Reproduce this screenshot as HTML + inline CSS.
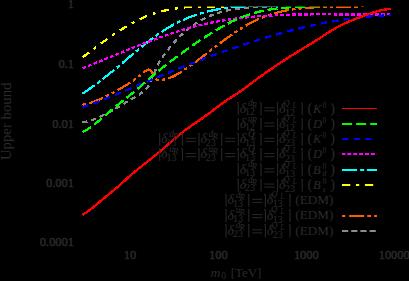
<!DOCTYPE html>
<html><head><meta charset="utf-8">
<style>
html,body{margin:0;padding:0;background:#000;width:409px;height:281px;overflow:hidden}
#c{position:absolute;left:0;top:0;width:409px;height:281px}
.t{position:absolute;font-family:"Liberation Serif",serif;color:#2c2929;white-space:nowrap;line-height:1}
</style></head><body>
<svg id="c" width="409" height="281" viewBox="0 0 409 281">
<rect width="409" height="281" fill="#000"/>
<defs><clipPath id="pc"><rect x="0" y="6.0" width="391" height="275"/></clipPath><mask id="mk" maskUnits="userSpaceOnUse" x="0" y="0" width="409" height="281"><rect x="0" y="0" width="409" height="281" fill="#fff"/><rect x="0" y="6" width="409" height="1" fill="#777"/></mask></defs>
<g fill="none" stroke-linecap="butt" stroke-linejoin="round" clip-path="url(#pc)" mask="url(#mk)" shape-rendering="crispEdges">
<path d="M82.50 122.47 L83.50 122.29 L84.50 122.09 L85.50 121.87 L86.50 121.63 L87.50 121.38 L88.50 121.10 L89.50 120.81 L90.50 120.50 L91.50 120.17 L92.50 119.82 L93.50 119.47 L94.50 119.09 L95.50 118.70 L96.50 118.30 L97.50 117.88 L98.50 117.45 L99.50 117.01 L100.50 116.56 L101.50 116.09 L102.50 115.61 L103.50 115.12 L104.50 114.63 L105.50 114.12 L106.50 113.60 L107.50 113.07 L108.50 112.54 L109.50 112.00 L110.50 111.45 L111.50 110.89 L112.50 110.33 L113.50 109.76 L114.50 109.18 L115.50 108.61 L116.50 108.02 L117.50 107.43 L118.50 106.84 L119.50 106.25 L120.50 105.66 L121.50 105.06 L122.50 104.46 L123.50 103.86 L124.50 103.26 L125.50 102.66 L126.50 102.06 L127.50 101.46 L128.50 100.86 L129.50 100.27 L130.50 99.67 L131.50 99.08 L132.50 98.50 L133.50 97.91 L134.50 97.33 L135.50 96.74 L136.50 96.14 L137.50 95.52 L138.50 94.89 L139.50 94.24 L140.50 93.57 L141.50 92.86 L142.50 92.12 L143.50 91.35 L144.50 90.52 L145.50 89.62 L146.50 88.59 L147.50 87.40 L148.50 85.99 L149.50 84.32 L150.50 82.36 L151.50 80.14 L152.50 77.71 L153.50 75.15 L154.50 72.53 L155.50 69.95 L156.50 67.49 L157.50 65.25 L158.50 63.29 L159.50 61.56 L160.50 60.00 L161.50 58.54 L162.50 57.11 L163.50 55.71 L164.50 54.34 L165.50 53.00 L166.50 51.68 L167.50 50.38 L168.50 49.12 L169.50 47.88 L170.50 46.66 L171.50 45.47 L172.50 44.31 L173.50 43.16 L174.50 42.05 L175.50 40.95 L176.50 39.89 L177.50 38.84 L178.50 37.82 L179.50 36.82 L180.50 35.84 L181.50 34.89 L182.50 33.95 L183.50 33.04 L184.50 32.15 L185.50 31.28 L186.50 30.44 L187.50 29.61 L188.50 28.81 L189.50 28.02 L190.50 27.25 L191.50 26.51 L192.50 25.78 L193.50 25.07 L194.50 24.39 L195.50 23.72 L196.50 23.06 L197.50 22.43 L198.50 21.81 L199.50 21.21 L200.50 20.63 L201.50 20.07 L202.50 19.52 L203.50 18.99 L204.50 18.47 L205.50 17.97 L206.50 17.49 L207.50 17.02 L208.50 16.57 L209.50 16.13 L210.50 15.70 L211.50 15.29 L212.50 14.90 L213.50 14.52 L214.50 14.15 L215.50 13.79 L216.50 13.45 L217.50 13.12 L218.50 12.80 L219.50 12.49 L220.50 12.20 L221.50 11.91 L222.50 11.64 L223.50 11.38 L224.50 11.13 L225.50 10.89 L226.50 10.66 L227.50 10.44 L228.50 10.23 L229.50 10.03 L230.50 9.84 L231.50 9.65 L232.50 9.48 L233.50 9.31 L234.50 9.15 L235.50 9.00 L236.50 8.86 L237.50 8.72 L238.50 8.60 L239.50 8.47 L240.50 8.36 L241.50 8.25 L242.50 8.14 L243.50 8.04 L244.50 7.95 L245.50 7.86 L246.50 7.77 L247.50 7.69 L248.50 7.62 L249.50 7.55 L250.50 7.48 L251.50 7.41 L252.50 7.35 L253.50 7.29 L254.50 7.24 L255.50 7.18 L256.50 7.13 L257.50 7.08 L258.50 7.03 L259.50 6.98 L260.50 6.94 L261.50 6.89 L262.50 6.84 L263.50 6.80 L264.50 6.75 L265.50 6.70 L266.50 6.66 L267.50 6.61 L268.50 6.56 L269.50 6.51 L270.50 6.45 L271.50 6.40 L272.50 6.34 L273.50 6.28 L274.50 6.22 L275.50 6.15 L276.50 6.08 L277.50 6.01 L278.00 5.97" stroke="#8c8c8c" stroke-width="2.3" stroke-dasharray="5 4"/>
<path d="M82.50 104.69 L83.50 104.51 L84.50 104.31 L85.50 104.09 L86.50 103.85 L87.50 103.60 L88.50 103.33 L89.50 103.05 L90.50 102.75 L91.50 102.44 L92.50 102.11 L93.50 101.77 L94.50 101.42 L95.50 101.05 L96.50 100.67 L97.50 100.27 L98.50 99.87 L99.50 99.45 L100.50 99.02 L101.50 98.58 L102.50 98.13 L103.50 97.66 L104.50 97.19 L105.50 96.71 L106.50 96.22 L107.50 95.72 L108.50 95.21 L109.50 94.69 L110.50 94.16 L111.50 93.63 L112.50 93.09 L113.50 92.54 L114.50 91.98 L115.50 91.42 L116.50 90.85 L117.50 90.28 L118.50 89.70 L119.50 89.12 L120.50 88.53 L121.50 87.94 L122.50 87.34 L123.50 86.74 L124.50 86.14 L125.50 85.53 L126.50 84.92 L127.50 84.31 L128.50 83.68 L129.50 83.05 L130.50 82.40 L131.50 81.75 L132.50 81.08 L133.50 80.40 L134.50 79.70 L135.50 78.99 L136.50 78.26 L137.50 77.51 L138.50 76.74 L139.50 75.95 L140.50 75.14 L141.50 74.30 L142.50 73.44 L143.50 72.57 L144.50 71.72 L145.50 70.96 L146.50 70.33 L147.50 69.88 L148.50 69.65 L149.50 69.71 L150.50 70.23 L151.50 71.42 L152.50 73.36 L153.50 75.55 L154.50 77.39 L155.50 78.62 L156.50 79.36 L157.50 79.73 L158.50 79.87 L159.50 79.90 L160.50 79.88 L161.50 79.81 L162.50 79.71 L163.50 79.57 L164.50 79.38 L165.50 79.16 L166.50 78.91 L167.50 78.62 L168.50 78.30 L169.50 77.94 L170.50 77.56 L171.50 77.15 L172.50 76.71 L173.50 76.24 L174.50 75.75 L175.50 75.23 L176.50 74.69 L177.50 74.14 L178.50 73.56 L179.50 72.96 L180.50 72.35 L181.50 71.72 L182.50 71.08 L183.50 70.42 L184.50 69.76 L185.50 69.08 L186.50 68.40 L187.50 67.70 L188.50 67.01 L189.50 66.30 L190.50 65.59 L191.50 64.87 L192.50 64.15 L193.50 63.42 L194.50 62.69 L195.50 61.95 L196.50 61.21 L197.50 60.47 L198.50 59.72 L199.50 58.97 L200.50 58.21 L201.50 57.46 L202.50 56.70 L203.50 55.93 L204.50 55.17 L205.50 54.40 L206.50 53.64 L207.50 52.87 L208.50 52.10 L209.50 51.33 L210.50 50.56 L211.50 49.79 L212.50 49.02 L213.50 48.26 L214.50 47.49 L215.50 46.72 L216.50 45.96 L217.50 45.20 L218.50 44.44 L219.50 43.68 L220.50 42.92 L221.50 42.17 L222.50 41.42 L223.50 40.68 L224.50 39.93 L225.50 39.20 L226.50 38.46 L227.50 37.73 L228.50 37.01 L229.50 36.29 L230.50 35.58 L231.50 34.87 L232.50 34.17 L233.50 33.48 L234.50 32.79 L235.50 32.11 L236.50 31.44 L237.50 30.77 L238.50 30.12 L239.50 29.47 L240.50 28.83 L241.50 28.20 L242.50 27.57 L243.50 26.96 L244.50 26.36 L245.50 25.76 L246.50 25.18 L247.50 24.60 L248.50 24.04 L249.50 23.49 L250.50 22.95 L251.50 22.42 L252.50 21.91 L253.50 21.40 L254.50 20.91 L255.50 20.43 L256.50 19.95 L257.50 19.50 L258.50 19.05 L259.50 18.61 L260.50 18.18 L261.50 17.77 L262.50 17.36 L263.50 16.97 L264.50 16.58 L265.50 16.21 L266.50 15.84 L267.50 15.49 L268.50 15.14 L269.50 14.81 L270.50 14.48 L271.50 14.16 L272.50 13.86 L273.50 13.56 L274.50 13.27 L275.50 12.99 L276.50 12.71 L277.50 12.45 L278.50 12.19 L279.50 11.95 L280.50 11.71 L281.50 11.47 L282.50 11.25 L283.50 11.03 L284.50 10.83 L285.50 10.62 L286.50 10.43 L287.50 10.24 L288.50 10.06 L289.50 9.89 L290.50 9.72 L291.50 9.56 L292.50 9.41 L293.50 9.26 L294.50 9.12 L295.50 8.98 L296.50 8.85 L297.50 8.73 L298.50 8.61 L299.50 8.50 L300.50 8.39 L301.50 8.29 L302.50 8.19 L303.50 8.09 L304.50 8.01 L305.50 7.92 L306.50 7.84 L307.50 7.77 L308.50 7.70 L309.50 7.63 L310.50 7.57 L311.50 7.51 L312.50 7.46 L313.50 7.40 L314.50 7.35 L315.50 7.31 L316.50 7.27 L317.50 7.23 L318.50 7.19 L319.50 7.16 L320.50 7.13 L321.50 7.10 L322.50 7.07 L323.50 7.05 L324.50 7.02 L325.50 7.00 L326.50 6.99 L327.50 6.97 L328.50 6.95 L329.50 6.94 L330.50 6.92 L331.50 6.91 L332.50 6.90 L333.50 6.89 L334.50 6.88 L335.50 6.87 L336.50 6.86 L337.50 6.85 L338.50 6.84 L339.50 6.83 L340.50 6.82 L341.50 6.81 L342.50 6.80 L343.50 6.79 L344.50 6.78 L345.50 6.77 L346.50 6.75 L347.50 6.74 L348.50 6.72 L349.50 6.70 L350.50 6.69 L351.50 6.66 L352.50 6.64 L353.50 6.62 L354.50 6.59 L355.50 6.56 L356.50 6.53 L357.50 6.49 L358.50 6.46 L359.50 6.42 L360.50 6.37 L361.50 6.33 L362.50 6.28 L363.50 6.23 L364.50 6.17 L365.50 6.11 L366.50 6.05 L367.50 5.98 L368.00 5.94" stroke="#ff5a00" stroke-width="2.3" stroke-dasharray="3.3 3.5 15 3 3.5 3"/>
<path d="M82.50 57.46 L83.50 56.71 L84.50 55.95 L85.50 55.19 L86.50 54.43 L87.50 53.67 L88.50 52.91 L89.50 52.16 L90.50 51.40 L91.50 50.65 L92.50 49.89 L93.50 49.14 L94.50 48.39 L95.50 47.64 L96.50 46.90 L97.50 46.15 L98.50 45.41 L99.50 44.67 L100.50 43.94 L101.50 43.20 L102.50 42.47 L103.50 41.75 L104.50 41.02 L105.50 40.31 L106.50 39.59 L107.50 38.88 L108.50 38.17 L109.50 37.47 L110.50 36.77 L111.50 36.08 L112.50 35.39 L113.50 34.70 L114.50 34.03 L115.50 33.35 L116.50 32.69 L117.50 32.03 L118.50 31.37 L119.50 30.72 L120.50 30.08 L121.50 29.44 L122.50 28.81 L123.50 28.19 L124.50 27.58 L125.50 26.97 L126.50 26.37 L127.50 25.78 L128.50 25.19 L129.50 24.61 L130.50 24.05 L131.50 23.49 L132.50 22.93 L133.50 22.39 L134.50 21.86 L135.50 21.33 L136.50 20.82 L137.50 20.31 L138.50 19.82 L139.50 19.33 L140.50 18.85 L141.50 18.39 L142.50 17.93 L143.50 17.49 L144.50 17.05 L145.50 16.63 L146.50 16.21 L147.50 15.81 L148.50 15.42 L149.50 15.04 L150.50 14.67 L151.50 14.32 L152.50 13.97 L153.50 13.63 L154.50 13.30 L155.50 12.99 L156.50 12.68 L157.50 12.38 L158.50 12.09 L159.50 11.81 L160.50 11.54 L161.50 11.28 L162.50 11.03 L163.50 10.79 L164.50 10.55 L165.50 10.33 L166.50 10.11 L167.50 9.90 L168.50 9.70 L169.50 9.51 L170.50 9.32 L171.50 9.14 L172.50 8.97 L173.50 8.81 L174.50 8.65 L175.50 8.50 L176.50 8.35 L177.50 8.22 L178.50 8.09 L179.50 7.96 L180.50 7.84 L181.50 7.73 L182.50 7.63 L183.50 7.53 L184.50 7.43 L185.50 7.34 L186.50 7.26 L187.50 7.18 L188.50 7.10 L189.50 7.03 L190.50 6.97 L191.50 6.90 L192.50 6.85 L193.50 6.79 L194.50 6.75 L195.50 6.70 L196.50 6.66 L197.50 6.62 L198.50 6.59 L199.50 6.56 L200.50 6.53 L201.50 6.50 L202.50 6.48 L203.50 6.46 L204.50 6.44 L205.50 6.42 L206.50 6.41 L207.50 6.40 L208.50 6.39 L209.50 6.38 L210.50 6.37 L211.50 6.37 L212.50 6.36 L213.50 6.36 L214.50 6.36 L215.50 6.36 L216.50 6.36 L217.50 6.35 L218.50 6.35 L219.50 6.35 L220.50 6.35 L221.50 6.35 L222.50 6.35 L223.50 6.35 L224.50 6.35 L225.50 6.34 L226.50 6.34 L227.50 6.33 L228.50 6.33 L229.50 6.32 L230.50 6.31 L231.50 6.30 L232.50 6.28 L233.50 6.27 L234.50 6.25 L235.50 6.23 L236.50 6.20 L237.50 6.18 L238.50 6.15 L239.50 6.12 L240.00 6.10" stroke="#ffff00" stroke-width="2.3" stroke-dasharray="8 6 3 6"/>
<path d="M82.50 93.58 L83.50 92.93 L84.50 92.27 L85.50 91.60 L86.50 90.92 L87.50 90.24 L88.50 89.54 L89.50 88.84 L90.50 88.14 L91.50 87.43 L92.50 86.71 L93.50 85.98 L94.50 85.25 L95.50 84.51 L96.50 83.77 L97.50 83.02 L98.50 82.26 L99.50 81.50 L100.50 80.74 L101.50 79.96 L102.50 79.19 L103.50 78.41 L104.50 77.62 L105.50 76.83 L106.50 76.04 L107.50 75.24 L108.50 74.43 L109.50 73.63 L110.50 72.82 L111.50 72.00 L112.50 71.19 L113.50 70.36 L114.50 69.54 L115.50 68.72 L116.50 67.89 L117.50 67.05 L118.50 66.22 L119.50 65.38 L120.50 64.55 L121.50 63.71 L122.50 62.87 L123.50 62.02 L124.50 61.18 L125.50 60.33 L126.50 59.49 L127.50 58.64 L128.50 57.79 L129.50 56.95 L130.50 56.10 L131.50 55.26 L132.50 54.41 L133.50 53.57 L134.50 52.73 L135.50 51.90 L136.50 51.06 L137.50 50.23 L138.50 49.40 L139.50 48.57 L140.50 47.75 L141.50 46.93 L142.50 46.12 L143.50 45.31 L144.50 44.51 L145.50 43.71 L146.50 42.92 L147.50 42.13 L148.50 41.35 L149.50 40.58 L150.50 39.81 L151.50 39.05 L152.50 38.30 L153.50 37.55 L154.50 36.82 L155.50 36.09 L156.50 35.37 L157.50 34.66 L158.50 33.96 L159.50 33.27 L160.50 32.59 L161.50 31.92 L162.50 31.26 L163.50 30.61 L164.50 29.97 L165.50 29.35 L166.50 28.73 L167.50 28.12 L168.50 27.53 L169.50 26.94 L170.50 26.37 L171.50 25.80 L172.50 25.25 L173.50 24.70 L174.50 24.17 L175.50 23.64 L176.50 23.13 L177.50 22.62 L178.50 22.12 L179.50 21.64 L180.50 21.16 L181.50 20.69 L182.50 20.23 L183.50 19.79 L184.50 19.34 L185.50 18.91 L186.50 18.49 L187.50 18.08 L188.50 17.67 L189.50 17.28 L190.50 16.89 L191.50 16.51 L192.50 16.14 L193.50 15.78 L194.50 15.42 L195.50 15.08 L196.50 14.74 L197.50 14.41 L198.50 14.09 L199.50 13.77 L200.50 13.46 L201.50 13.17 L202.50 12.87 L203.50 12.59 L204.50 12.31 L205.50 12.04 L206.50 11.78 L207.50 11.53 L208.50 11.28 L209.50 11.04 L210.50 10.80 L211.50 10.58 L212.50 10.36 L213.50 10.14 L214.50 9.93 L215.50 9.73 L216.50 9.54 L217.50 9.35 L218.50 9.17 L219.50 8.99 L220.50 8.82 L221.50 8.66 L222.50 8.50 L223.50 8.35 L224.50 8.20 L225.50 8.06 L226.50 7.93 L227.50 7.80 L228.50 7.67 L229.50 7.55 L230.50 7.44 L231.50 7.33 L232.50 7.23 L233.50 7.13 L234.50 7.03 L235.50 6.94 L236.50 6.86 L237.50 6.78 L238.50 6.70 L239.50 6.63 L240.50 6.57 L241.50 6.50 L242.50 6.44 L243.50 6.39 L244.50 6.34 L245.50 6.29 L246.50 6.25 L247.50 6.21 L248.50 6.18 L249.50 6.15 L250.50 6.12 L251.50 6.09 L252.50 6.07 L253.50 6.06 L254.50 6.04 L255.50 6.03 L256.50 6.02 L257.50 6.01 L258.50 6.01 L259.50 6.01 L260.50 6.01 L261.50 6.02 L262.50 6.03 L263.50 6.04 L264.50 6.05 L265.50 6.06 L266.50 6.08 L267.50 6.10 L268.50 6.12 L269.50 6.14 L270.50 6.17 L271.50 6.20 L272.50 6.22 L273.50 6.25 L274.50 6.28 L275.50 6.32 L276.50 6.35 L277.50 6.39 L278.00 6.40" stroke="#00ffff" stroke-width="2.3" stroke-dasharray="15 3 4 3"/>
<path d="M82.50 68.26 L83.50 67.87 L84.50 67.48 L85.50 67.09 L86.50 66.70 L87.50 66.31 L88.50 65.91 L89.50 65.52 L90.50 65.12 L91.50 64.72 L92.50 64.32 L93.50 63.92 L94.50 63.52 L95.50 63.12 L96.50 62.72 L97.50 62.31 L98.50 61.91 L99.50 61.50 L100.50 61.10 L101.50 60.69 L102.50 60.28 L103.50 59.88 L104.50 59.47 L105.50 59.06 L106.50 58.65 L107.50 58.24 L108.50 57.83 L109.50 57.42 L110.50 57.01 L111.50 56.60 L112.50 56.19 L113.50 55.78 L114.50 55.37 L115.50 54.96 L116.50 54.55 L117.50 54.14 L118.50 53.73 L119.50 53.32 L120.50 52.91 L121.50 52.50 L122.50 52.09 L123.50 51.68 L124.50 51.27 L125.50 50.86 L126.50 50.45 L127.50 50.05 L128.50 49.64 L129.50 49.23 L130.50 48.83 L131.50 48.42 L132.50 48.02 L133.50 47.62 L134.50 47.22 L135.50 46.82 L136.50 46.42 L137.50 46.02 L138.50 45.62 L139.50 45.22 L140.50 44.83 L141.50 44.44 L142.50 44.04 L143.50 43.65 L144.50 43.26 L145.50 42.87 L146.50 42.49 L147.50 42.10 L148.50 41.72 L149.50 41.33 L150.50 40.95 L151.50 40.57 L152.50 40.20 L153.50 39.82 L154.50 39.45 L155.50 39.08 L156.50 38.71 L157.50 38.34 L158.50 37.97 L159.50 37.61 L160.50 37.25 L161.50 36.89 L162.50 36.53 L163.50 36.18 L164.50 35.82 L165.50 35.47 L166.50 35.13 L167.50 34.78 L168.50 34.44 L169.50 34.10 L170.50 33.76 L171.50 33.42 L172.50 33.09 L173.50 32.76 L174.50 32.44 L175.50 32.11 L176.50 31.79 L177.50 31.47 L178.50 31.16 L179.50 30.85 L180.50 30.54 L181.50 30.23 L182.50 29.93 L183.50 29.63 L184.50 29.33 L185.50 29.04 L186.50 28.75 L187.50 28.46 L188.50 28.18 L189.50 27.90 L190.50 27.63 L191.50 27.35 L192.50 27.09 L193.50 26.82 L194.50 26.56 L195.50 26.30 L196.50 26.05 L197.50 25.80 L198.50 25.55 L199.50 25.31 L200.50 25.07 L201.50 24.83 L202.50 24.60 L203.50 24.37 L204.50 24.14 L205.50 23.92 L206.50 23.70 L207.50 23.48 L208.50 23.27 L209.50 23.06 L210.50 22.85 L211.50 22.65 L212.50 22.45 L213.50 22.25 L214.50 22.06 L215.50 21.87 L216.50 21.68 L217.50 21.50 L218.50 21.31 L219.50 21.14 L220.50 20.96 L221.50 20.79 L222.50 20.62 L223.50 20.45 L224.50 20.29 L225.50 20.13 L226.50 19.97 L227.50 19.81 L228.50 19.66 L229.50 19.51 L230.50 19.36 L231.50 19.22 L232.50 19.08 L233.50 18.94 L234.50 18.80 L235.50 18.67 L236.50 18.54 L237.50 18.41 L238.50 18.28 L239.50 18.16 L240.50 18.04 L241.50 17.92 L242.50 17.81 L243.50 17.69 L244.50 17.58 L245.50 17.47 L246.50 17.37 L247.50 17.26 L248.50 17.16 L249.50 17.06 L250.50 16.96 L251.50 16.87 L252.50 16.78 L253.50 16.69 L254.50 16.60 L255.50 16.51 L256.50 16.43 L257.50 16.34 L258.50 16.26 L259.50 16.19 L260.50 16.11 L261.50 16.04 L262.50 15.96 L263.50 15.89 L264.50 15.83 L265.50 15.76 L266.50 15.70 L267.50 15.63 L268.50 15.57 L269.50 15.51 L270.50 15.46 L271.50 15.40 L272.50 15.35 L273.50 15.30 L274.50 15.25 L275.50 15.20 L276.50 15.15 L277.50 15.11 L278.50 15.06 L279.50 15.02 L280.50 14.98 L281.50 14.94 L282.50 14.90 L283.50 14.87 L284.50 14.83 L285.50 14.80 L286.50 14.76 L287.50 14.73 L288.50 14.70 L289.50 14.68 L290.50 14.65 L291.50 14.62 L292.50 14.60 L293.50 14.58 L294.50 14.56 L295.50 14.53 L296.50 14.51 L297.50 14.50 L298.50 14.48 L299.50 14.46 L300.50 14.45 L301.50 14.43 L302.50 14.42 L303.50 14.41 L304.50 14.40 L305.50 14.39 L306.50 14.38 L307.50 14.37 L308.50 14.36 L309.50 14.35 L310.50 14.35 L311.50 14.34 L312.50 14.34 L313.50 14.33 L314.50 14.33 L315.50 14.33 L316.50 14.32 L317.50 14.32 L318.50 14.32 L319.50 14.32 L320.50 14.32 L321.50 14.32 L322.50 14.32 L323.50 14.33 L324.50 14.33 L325.50 14.33 L326.50 14.33 L327.50 14.34 L328.50 14.34 L329.50 14.35 L330.50 14.35 L331.50 14.36 L332.50 14.36 L333.50 14.37 L334.50 14.37 L335.50 14.38 L336.50 14.38 L337.50 14.39 L338.50 14.40 L339.50 14.40 L340.50 14.41 L341.50 14.41 L342.50 14.42 L343.50 14.43 L344.50 14.43 L345.50 14.44 L346.50 14.45 L347.50 14.45 L348.50 14.46 L349.50 14.46 L350.50 14.47 L351.50 14.47 L352.50 14.48 L353.50 14.49 L354.50 14.49 L355.50 14.49 L356.50 14.50 L357.50 14.50 L358.50 14.51 L359.50 14.51 L360.50 14.51 L361.50 14.51 L362.50 14.51 L363.50 14.52 L364.50 14.52 L365.50 14.52 L366.50 14.51 L367.50 14.51 L368.50 14.51 L369.50 14.51 L370.50 14.51 L371.50 14.50 L372.50 14.50 L373.50 14.49 L374.50 14.49 L375.50 14.48 L376.50 14.47 L377.50 14.46 L378.50 14.45 L379.50 14.44 L380.50 14.43 L381.50 14.42 L382.50 14.41 L383.50 14.39 L384.50 14.38 L385.50 14.36 L386.50 14.35 L387.50 14.33 L388.50 14.31 L389.50 14.29 L390.50 14.27 L390.60 14.26" stroke="#ff00ff" stroke-width="2.3" stroke-dasharray="3.8 2.1"/>
<path d="M82.50 107.13 L83.50 106.80 L84.50 106.47 L85.50 106.14 L86.50 105.80 L87.50 105.46 L88.50 105.12 L89.50 104.77 L90.50 104.42 L91.50 104.06 L92.50 103.71 L93.50 103.35 L94.50 102.98 L95.50 102.61 L96.50 102.24 L97.50 101.87 L98.50 101.50 L99.50 101.12 L100.50 100.74 L101.50 100.36 L102.50 99.97 L103.50 99.58 L104.50 99.19 L105.50 98.80 L106.50 98.40 L107.50 98.01 L108.50 97.61 L109.50 97.21 L110.50 96.81 L111.50 96.40 L112.50 96.00 L113.50 95.59 L114.50 95.18 L115.50 94.77 L116.50 94.36 L117.50 93.95 L118.50 93.53 L119.50 93.12 L120.50 92.70 L121.50 92.29 L122.50 91.87 L123.50 91.45 L124.50 91.03 L125.50 90.61 L126.50 90.19 L127.50 89.77 L128.50 89.35 L129.50 88.93 L130.50 88.51 L131.50 88.08 L132.50 87.66 L133.50 87.24 L134.50 86.82 L135.50 86.40 L136.50 85.97 L137.50 85.55 L138.50 85.13 L139.50 84.71 L140.50 84.29 L141.50 83.87 L142.50 83.45 L143.50 83.03 L144.50 82.61 L145.50 82.19 L146.50 81.77 L147.50 81.35 L148.50 80.94 L149.50 80.52 L150.50 80.10 L151.50 79.69 L152.50 79.27 L153.50 78.86 L154.50 78.45 L155.50 78.03 L156.50 77.62 L157.50 77.21 L158.50 76.80 L159.50 76.39 L160.50 75.98 L161.50 75.57 L162.50 75.16 L163.50 74.75 L164.50 74.35 L165.50 73.94 L166.50 73.53 L167.50 73.13 L168.50 72.72 L169.50 72.32 L170.50 71.92 L171.50 71.51 L172.50 71.11 L173.50 70.71 L174.50 70.31 L175.50 69.91 L176.50 69.51 L177.50 69.11 L178.50 68.71 L179.50 68.32 L180.50 67.92 L181.50 67.52 L182.50 67.13 L183.50 66.73 L184.50 66.34 L185.50 65.95 L186.50 65.56 L187.50 65.16 L188.50 64.77 L189.50 64.38 L190.50 64.00 L191.50 63.61 L192.50 63.22 L193.50 62.83 L194.50 62.45 L195.50 62.06 L196.50 61.68 L197.50 61.30 L198.50 60.91 L199.50 60.53 L200.50 60.15 L201.50 59.77 L202.50 59.39 L203.50 59.01 L204.50 58.64 L205.50 58.26 L206.50 57.88 L207.50 57.51 L208.50 57.14 L209.50 56.76 L210.50 56.39 L211.50 56.02 L212.50 55.65 L213.50 55.28 L214.50 54.91 L215.50 54.55 L216.50 54.18 L217.50 53.82 L218.50 53.45 L219.50 53.09 L220.50 52.73 L221.50 52.37 L222.50 52.01 L223.50 51.65 L224.50 51.29 L225.50 50.93 L226.50 50.58 L227.50 50.22 L228.50 49.87 L229.50 49.52 L230.50 49.17 L231.50 48.82 L232.50 48.47 L233.50 48.12 L234.50 47.77 L235.50 47.43 L236.50 47.09 L237.50 46.74 L238.50 46.40 L239.50 46.06 L240.50 45.72 L241.50 45.39 L242.50 45.05 L243.50 44.71 L244.50 44.38 L245.50 44.05 L246.50 43.72 L247.50 43.39 L248.50 43.06 L249.50 42.73 L250.50 42.41 L251.50 42.08 L252.50 41.76 L253.50 41.44 L254.50 41.12 L255.50 40.80 L256.50 40.48 L257.50 40.17 L258.50 39.85 L259.50 39.54 L260.50 39.23 L261.50 38.92 L262.50 38.61 L263.50 38.30 L264.50 38.00 L265.50 37.69 L266.50 37.39 L267.50 37.09 L268.50 36.79 L269.50 36.49 L270.50 36.20 L271.50 35.90 L272.50 35.61 L273.50 35.32 L274.50 35.03 L275.50 34.74 L276.50 34.46 L277.50 34.17 L278.50 33.89 L279.50 33.61 L280.50 33.33 L281.50 33.05 L282.50 32.77 L283.50 32.50 L284.50 32.22 L285.50 31.95 L286.50 31.68 L287.50 31.42 L288.50 31.15 L289.50 30.89 L290.50 30.63 L291.50 30.36 L292.50 30.11 L293.50 29.85 L294.50 29.59 L295.50 29.34 L296.50 29.09 L297.50 28.84 L298.50 28.59 L299.50 28.35 L300.50 28.10 L301.50 27.86 L302.50 27.62 L303.50 27.39 L304.50 27.15 L305.50 26.92 L306.50 26.68 L307.50 26.45 L308.50 26.23 L309.50 26.00 L310.50 25.78 L311.50 25.55 L312.50 25.33 L313.50 25.12 L314.50 24.90 L315.50 24.69 L316.50 24.47 L317.50 24.26 L318.50 24.06 L319.50 23.85 L320.50 23.65 L321.50 23.45 L322.50 23.25 L323.50 23.05 L324.50 22.86 L325.50 22.66 L326.50 22.47 L327.50 22.29 L328.50 22.10 L329.50 21.92 L330.50 21.73 L331.50 21.55 L332.50 21.38 L333.50 21.20 L334.50 21.03 L335.50 20.86 L336.50 20.69 L337.50 20.53 L338.50 20.36 L339.50 20.20 L340.50 20.04 L341.50 19.89 L342.50 19.73 L343.50 19.58 L344.50 19.43 L345.50 19.29 L346.50 19.14 L347.50 19.00 L348.50 18.86 L349.50 18.72 L350.50 18.59 L351.50 18.46 L352.50 18.33 L353.50 18.20 L354.50 18.07 L355.50 17.95 L356.50 17.83 L357.50 17.71 L358.50 17.60 L359.50 17.49 L360.50 17.38 L361.50 17.27 L362.50 17.16 L363.50 17.06 L364.50 16.96 L365.50 16.87 L366.50 16.77 L367.50 16.68 L368.50 16.59 L369.50 16.51 L370.50 16.42 L371.50 16.34 L372.50 16.26 L373.50 16.19 L374.50 16.11 L375.50 16.04 L376.50 15.98 L377.50 15.91 L378.50 15.85 L379.50 15.79 L380.50 15.73 L381.50 15.68 L382.50 15.63 L383.50 15.58 L384.50 15.53 L385.50 15.49 L386.50 15.45 L387.50 15.42 L388.50 15.38 L389.50 15.35 L390.50 15.32 L390.60 15.32" stroke="#0000ff" stroke-width="2.3" stroke-dasharray="6.5 5"/>
<path d="M82.50 132.27 L83.50 131.72 L84.50 131.14 L85.50 130.54 L86.50 129.92 L87.50 129.28 L88.50 128.61 L89.50 127.93 L90.50 127.22 L91.50 126.50 L92.50 125.76 L93.50 125.01 L94.50 124.24 L95.50 123.45 L96.50 122.66 L97.50 121.86 L98.50 121.04 L99.50 120.22 L100.50 119.39 L101.50 118.55 L102.50 117.71 L103.50 116.86 L104.50 116.01 L105.50 115.16 L106.50 114.30 L107.50 113.45 L108.50 112.60 L109.50 111.75 L110.50 110.91 L111.50 110.07 L112.50 109.23 L113.50 108.40 L114.50 107.58 L115.50 106.76 L116.50 105.95 L117.50 105.14 L118.50 104.34 L119.50 103.54 L120.50 102.74 L121.50 101.94 L122.50 101.14 L123.50 100.35 L124.50 99.55 L125.50 98.75 L126.50 97.95 L127.50 97.15 L128.50 96.35 L129.50 95.54 L130.50 94.73 L131.50 93.91 L132.50 93.09 L133.50 92.27 L134.50 91.43 L135.50 90.60 L136.50 89.75 L137.50 88.91 L138.50 88.06 L139.50 87.20 L140.50 86.34 L141.50 85.48 L142.50 84.62 L143.50 83.75 L144.50 82.88 L145.50 82.01 L146.50 81.14 L147.50 80.27 L148.50 79.40 L149.50 78.53 L150.50 77.66 L151.50 76.80 L152.50 75.94 L153.50 75.08 L154.50 74.23 L155.50 73.39 L156.50 72.55 L157.50 71.73 L158.50 70.91 L159.50 70.10 L160.50 69.30 L161.50 68.50 L162.50 67.71 L163.50 66.93 L164.50 66.15 L165.50 65.38 L166.50 64.61 L167.50 63.84 L168.50 63.08 L169.50 62.31 L170.50 61.55 L171.50 60.80 L172.50 60.04 L173.50 59.29 L174.50 58.54 L175.50 57.79 L176.50 57.04 L177.50 56.30 L178.50 55.56 L179.50 54.82 L180.50 54.09 L181.50 53.36 L182.50 52.63 L183.50 51.90 L184.50 51.18 L185.50 50.46 L186.50 49.75 L187.50 49.04 L188.50 48.33 L189.50 47.63 L190.50 46.92 L191.50 46.23 L192.50 45.53 L193.50 44.84 L194.50 44.15 L195.50 43.47 L196.50 42.79 L197.50 42.11 L198.50 41.44 L199.50 40.77 L200.50 40.10 L201.50 39.44 L202.50 38.78 L203.50 38.13 L204.50 37.48 L205.50 36.83 L206.50 36.19 L207.50 35.55 L208.50 34.91 L209.50 34.28 L210.50 33.65 L211.50 33.03 L212.50 32.41 L213.50 31.79 L214.50 31.18 L215.50 30.58 L216.50 29.98 L217.50 29.38 L218.50 28.79 L219.50 28.21 L220.50 27.63 L221.50 27.06 L222.50 26.49 L223.50 25.93 L224.50 25.38 L225.50 24.83 L226.50 24.30 L227.50 23.76 L228.50 23.24 L229.50 22.73 L230.50 22.22 L231.50 21.72 L232.50 21.23 L233.50 20.75 L234.50 20.28 L235.50 19.82 L236.50 19.36 L237.50 18.92 L238.50 18.49 L239.50 18.07 L240.50 17.65 L241.50 17.25 L242.50 16.86 L243.50 16.48 L244.50 16.11 L245.50 15.74 L246.50 15.39 L247.50 15.05 L248.50 14.72 L249.50 14.39 L250.50 14.08 L251.50 13.77 L252.50 13.48 L253.50 13.19 L254.50 12.91 L255.50 12.64 L256.50 12.37 L257.50 12.12 L258.50 11.87 L259.50 11.63 L260.50 11.40 L261.50 11.18 L262.50 10.96 L263.50 10.75 L264.50 10.55 L265.50 10.35 L266.50 10.16 L267.50 9.98 L268.50 9.81 L269.50 9.64 L270.50 9.47 L271.50 9.32 L272.50 9.17 L273.50 9.02 L274.50 8.88 L275.50 8.75 L276.50 8.62 L277.50 8.49 L278.50 8.37 L279.50 8.26 L280.50 8.15 L281.50 8.04 L282.50 7.94 L283.50 7.85 L284.50 7.76 L285.50 7.67 L286.50 7.58 L287.50 7.50 L288.50 7.43 L289.50 7.35 L290.50 7.28 L291.50 7.21 L292.50 7.15 L293.50 7.09 L294.50 7.03 L295.50 6.97 L296.50 6.92 L297.50 6.86 L298.50 6.81 L299.50 6.77 L300.50 6.72 L301.50 6.67 L302.50 6.63 L303.50 6.59 L304.50 6.55 L305.50 6.51 L306.50 6.47 L307.50 6.43 L308.50 6.39 L309.50 6.35 L310.50 6.32 L311.50 6.28 L312.50 6.24 L313.50 6.21 L314.50 6.17 L315.50 6.13 L316.50 6.09 L317.50 6.05 L318.50 6.01 L319.50 5.97 L320.50 5.93 L321.50 5.88 L322.50 5.84 L323.50 5.79 L324.50 5.74 L325.00 5.72" stroke="#00ff00" stroke-width="2.3" stroke-dasharray="10 4"/>
<path d="M82.50 214.91 L83.50 214.29 L84.50 213.65 L85.50 212.98 L86.50 212.30 L87.50 211.59 L88.50 210.87 L89.50 210.12 L90.50 209.37 L91.50 208.59 L92.50 207.81 L93.50 207.01 L94.50 206.20 L95.50 205.38 L96.50 204.56 L97.50 203.72 L98.50 202.88 L99.50 202.04 L100.50 201.19 L101.50 200.34 L102.50 199.49 L103.50 198.64 L104.50 197.80 L105.50 196.96 L106.50 196.12 L107.50 195.28 L108.50 194.46 L109.50 193.64 L110.50 192.83 L111.50 192.02 L112.50 191.22 L113.50 190.41 L114.50 189.59 L115.50 188.77 L116.50 187.94 L117.50 187.10 L118.50 186.24 L119.50 185.36 L120.50 184.47 L121.50 183.56 L122.50 182.65 L123.50 181.73 L124.50 180.81 L125.50 179.90 L126.50 178.99 L127.50 178.10 L128.50 177.21 L129.50 176.34 L130.50 175.47 L131.50 174.61 L132.50 173.76 L133.50 172.91 L134.50 172.07 L135.50 171.24 L136.50 170.42 L137.50 169.59 L138.50 168.78 L139.50 167.96 L140.50 167.15 L141.50 166.35 L142.50 165.54 L143.50 164.74 L144.50 163.94 L145.50 163.14 L146.50 162.34 L147.50 161.54 L148.50 160.74 L149.50 159.94 L150.50 159.14 L151.50 158.34 L152.50 157.53 L153.50 156.72 L154.50 155.91 L155.50 155.10 L156.50 154.28 L157.50 153.45 L158.50 152.62 L159.50 151.79 L160.50 150.94 L161.50 150.10 L162.50 149.24 L163.50 148.39 L164.50 147.53 L165.50 146.67 L166.50 145.81 L167.50 144.94 L168.50 144.08 L169.50 143.21 L170.50 142.35 L171.50 141.49 L172.50 140.63 L173.50 139.78 L174.50 138.92 L175.50 138.08 L176.50 137.23 L177.50 136.40 L178.50 135.57 L179.50 134.75 L180.50 133.93 L181.50 133.13 L182.50 132.33 L183.50 131.54 L184.50 130.77 L185.50 130.00 L186.50 129.25 L187.50 128.51 L188.50 127.77 L189.50 127.05 L190.50 126.34 L191.50 125.63 L192.50 124.93 L193.50 124.24 L194.50 123.55 L195.50 122.86 L196.50 122.18 L197.50 121.49 L198.50 120.81 L199.50 120.13 L200.50 119.44 L201.50 118.75 L202.50 118.06 L203.50 117.37 L204.50 116.67 L205.50 115.96 L206.50 115.25 L207.50 114.52 L208.50 113.79 L209.50 113.05 L210.50 112.30 L211.50 111.54 L212.50 110.78 L213.50 110.01 L214.50 109.24 L215.50 108.47 L216.50 107.70 L217.50 106.93 L218.50 106.17 L219.50 105.41 L220.50 104.66 L221.50 103.92 L222.50 103.19 L223.50 102.46 L224.50 101.76 L225.50 101.06 L226.50 100.39 L227.50 99.72 L228.50 99.07 L229.50 98.43 L230.50 97.80 L231.50 97.17 L232.50 96.54 L233.50 95.91 L234.50 95.27 L235.50 94.64 L236.50 93.99 L237.50 93.33 L238.50 92.66 L239.50 91.97 L240.50 91.27 L241.50 90.55 L242.50 89.83 L243.50 89.09 L244.50 88.34 L245.50 87.59 L246.50 86.83 L247.50 86.08 L248.50 85.32 L249.50 84.57 L250.50 83.82 L251.50 83.07 L252.50 82.33 L253.50 81.58 L254.50 80.85 L255.50 80.11 L256.50 79.38 L257.50 78.65 L258.50 77.93 L259.50 77.20 L260.50 76.48 L261.50 75.77 L262.50 75.05 L263.50 74.34 L264.50 73.64 L265.50 72.93 L266.50 72.23 L267.50 71.53 L268.50 70.84 L269.50 70.14 L270.50 69.45 L271.50 68.77 L272.50 68.08 L273.50 67.40 L274.50 66.72 L275.50 66.05 L276.50 65.37 L277.50 64.70 L278.50 64.04 L279.50 63.37 L280.50 62.71 L281.50 62.05 L282.50 61.40 L283.50 60.74 L284.50 60.09 L285.50 59.45 L286.50 58.80 L287.50 58.16 L288.50 57.52 L289.50 56.89 L290.50 56.25 L291.50 55.62 L292.50 54.99 L293.50 54.37 L294.50 53.75 L295.50 53.12 L296.50 52.51 L297.50 51.89 L298.50 51.28 L299.50 50.67 L300.50 50.06 L301.50 49.46 L302.50 48.85 L303.50 48.24 L304.50 47.64 L305.50 47.03 L306.50 46.43 L307.50 45.82 L308.50 45.21 L309.50 44.60 L310.50 43.99 L311.50 43.38 L312.50 42.76 L313.50 42.14 L314.50 41.52 L315.50 40.89 L316.50 40.26 L317.50 39.62 L318.50 38.98 L319.50 38.33 L320.50 37.68 L321.50 37.02 L322.50 36.37 L323.50 35.70 L324.50 35.04 L325.50 34.38 L326.50 33.73 L327.50 33.08 L328.50 32.43 L329.50 31.79 L330.50 31.15 L331.50 30.53 L332.50 29.92 L333.50 29.32 L334.50 28.73 L335.50 28.16 L336.50 27.60 L337.50 27.05 L338.50 26.52 L339.50 26.00 L340.50 25.49 L341.50 24.99 L342.50 24.51 L343.50 24.03 L344.50 23.56 L345.50 23.11 L346.50 22.66 L347.50 22.22 L348.50 21.79 L349.50 21.37 L350.50 20.95 L351.50 20.54 L352.50 20.14 L353.50 19.74 L354.50 19.34 L355.50 18.96 L356.50 18.57 L357.50 18.19 L358.50 17.81 L359.50 17.44 L360.50 17.07 L361.50 16.70 L362.50 16.33 L363.50 15.96 L364.50 15.59 L365.50 15.22 L366.50 14.86 L367.50 14.49 L368.50 14.13 L369.50 13.78 L370.50 13.43 L371.50 13.08 L372.50 12.74 L373.50 12.42 L374.50 12.10 L375.50 11.79 L376.50 11.49 L377.50 11.21 L378.50 10.94 L379.50 10.68 L380.50 10.44 L381.50 10.22 L382.50 10.02 L383.50 9.83 L384.50 9.67 L385.50 9.52 L386.50 9.40 L387.50 9.30 L388.50 9.23 L389.50 9.18 L390.50 9.15 L390.60 9.15" stroke="#ff0000" stroke-width="2.4"/>
</g>
<g fill="none" stroke-linecap="butt">
<path d="M342 108.5H377" stroke="#ff0000" stroke-width="1.0"/>
<path d="M342 124.0H377" stroke="#00ff00" stroke-width="2.0" stroke-dasharray="10.1 4"/>
<path d="M342 139.0H377" stroke="#0000ff" stroke-width="2.0" stroke-dasharray="6.2 5.4"/>
<path d="M342 154.0H377" stroke="#ff00ff" stroke-width="2.0" stroke-dasharray="4 1.9" stroke-dashoffset="0.6"/>
<path d="M342 170.0H377" stroke="#00ffff" stroke-width="2.0" stroke-dasharray="15.1 3 4.1 2.7"/>
<path d="M342 185.0H377" stroke="#ffff00" stroke-width="2.0" stroke-dasharray="8.3 5.7 3.2 5.7"/>
<path d="M342 216.0H377" stroke="#ff5a00" stroke-width="2.0" stroke-dasharray="3.3 3.8 15.1 3 4 2.8"/>
<path d="M342 231.0H377" stroke="#8c8c8c" stroke-width="2.0" stroke-dasharray="6.2 3"/>
</g>
<g font-family="Liberation Serif" fill="#2c2929" font-size="12.5">
<g font-size="13.5" stroke="#2c2929" stroke-width="0.5">
<text transform="translate(74 8.2) scale(0.92 1)" text-anchor="end">1</text>
<text transform="translate(74 68.3) scale(0.92 1)" text-anchor="end">0.1</text>
<text transform="translate(74 127.5) scale(0.92 1)" text-anchor="end">0.01</text>
<text transform="translate(74 186.7) scale(0.92 1)" text-anchor="end">0.001</text>
<text transform="translate(74 245.9) scale(0.92 1)" text-anchor="end">0.0001</text>
<text transform="translate(130 258.8) scale(0.92 1)" text-anchor="middle">10</text>
<text transform="translate(218.4 258.8) scale(0.92 1)" text-anchor="middle">100</text>
<text transform="translate(306.3 258.8) scale(0.92 1)" text-anchor="middle">1000</text>
<text transform="translate(394.2 258.8) scale(0.92 1)" text-anchor="middle">10000</text>
</g>
<text transform="translate(10.6 121.3) rotate(-90)" text-anchor="middle" font-size="14.6" textLength="77.6" lengthAdjust="spacingAndGlyphs">Upper bound</text>
<g stroke="#2c2929" stroke-width="0.08">
<rect x="237.80" y="102.70" width="1" height="12.6" fill="#2c2929"/>
<text x="239.70" y="112.70" font-size="13.8" font-style="italic">δ</text>
<text x="247.90" y="106.40" font-size="9.5" font-style="italic">d</text>
<text x="251.70" y="108.20" font-size="8.5" font-style="italic">R</text>
<text x="245.10" y="115.10" font-size="10.0">12</text>
<rect x="260.50" y="102.70" width="1" height="12.6" fill="#2c2929"/>
<rect x="264.50" y="107.30" width="10" height="0.9" fill="#2c2929"/>
<rect x="264.50" y="110.40" width="10" height="0.9" fill="#2c2929"/>
<rect x="277.10" y="102.70" width="1" height="12.6" fill="#2c2929"/>
<text x="279.00" y="112.70" font-size="13.8" font-style="italic">δ</text>
<text x="283.20" y="105.50" font-size="8.8" font-style="italic">Q</text>
<text x="292.40" y="107.50" font-size="7.5" font-style="italic">L</text>
<text x="284.90" y="115.90" font-size="10.0">12</text>
<rect x="301.70" y="102.70" width="1" height="12.6" fill="#2c2929"/>
<text x="307.40" y="112.60" font-size="14.0">(</text>
<text x="313.00" y="112.70" font-size="12.5" font-style="italic">K</text>
<text x="322.60" y="107.60" font-size="7.5">0</text>
<text x="330.20" y="112.60" font-size="14.0">)</text>
<rect x="237.80" y="117.96" width="1" height="12.6" fill="#2c2929"/>
<text x="239.70" y="127.96" font-size="13.8" font-style="italic">δ</text>
<text x="247.90" y="121.66" font-size="9.5" font-style="italic">u</text>
<text x="251.70" y="123.46" font-size="8.5" font-style="italic">R</text>
<text x="245.10" y="130.36" font-size="10.0">12</text>
<rect x="260.50" y="117.96" width="1" height="12.6" fill="#2c2929"/>
<rect x="264.50" y="122.56" width="10" height="0.9" fill="#2c2929"/>
<rect x="264.50" y="125.66" width="10" height="0.9" fill="#2c2929"/>
<rect x="277.10" y="117.96" width="1" height="12.6" fill="#2c2929"/>
<text x="279.00" y="127.96" font-size="13.8" font-style="italic">δ</text>
<text x="283.20" y="120.76" font-size="8.8" font-style="italic">Q</text>
<text x="292.40" y="122.76" font-size="7.5" font-style="italic">L</text>
<text x="284.90" y="131.16" font-size="10.0">12</text>
<rect x="301.70" y="117.96" width="1" height="12.6" fill="#2c2929"/>
<text x="307.40" y="127.86" font-size="14.0">(</text>
<text x="313.00" y="127.96" font-size="12.5" font-style="italic">D</text>
<text x="322.60" y="122.86" font-size="7.5">0</text>
<text x="330.20" y="127.86" font-size="14.0">)</text>
<rect x="159.20" y="133.22" width="1" height="12.6" fill="#2c2929"/>
<text x="161.10" y="143.22" font-size="13.8" font-style="italic">δ</text>
<text x="169.30" y="136.92" font-size="9.5" font-style="italic">d</text>
<text x="173.10" y="138.72" font-size="8.5" font-style="italic">R</text>
<text x="166.50" y="145.62" font-size="10.0">13</text>
<rect x="181.90" y="133.22" width="1" height="12.6" fill="#2c2929"/>
<rect x="185.90" y="137.82" width="10" height="0.9" fill="#2c2929"/>
<rect x="185.90" y="140.92" width="10" height="0.9" fill="#2c2929"/>
<rect x="198.50" y="133.22" width="1" height="12.6" fill="#2c2929"/>
<text x="200.40" y="143.22" font-size="13.8" font-style="italic">δ</text>
<text x="208.60" y="136.92" font-size="9.5" font-style="italic">d</text>
<text x="212.40" y="138.72" font-size="8.5" font-style="italic">R</text>
<text x="205.80" y="145.62" font-size="10.0">23</text>
<rect x="221.20" y="133.22" width="1" height="12.6" fill="#2c2929"/>
<rect x="225.20" y="137.82" width="10" height="0.9" fill="#2c2929"/>
<rect x="225.20" y="140.92" width="10" height="0.9" fill="#2c2929"/>
<rect x="237.80" y="133.22" width="1" height="12.6" fill="#2c2929"/>
<text x="239.70" y="143.22" font-size="13.8" font-style="italic">δ</text>
<text x="247.90" y="136.92" font-size="9.5" font-style="italic">Q</text>
<text x="251.70" y="138.72" font-size="8.5" font-style="italic">L</text>
<text x="245.10" y="145.62" font-size="10.0">13</text>
<rect x="260.50" y="133.22" width="1" height="12.6" fill="#2c2929"/>
<rect x="264.50" y="137.82" width="10" height="0.9" fill="#2c2929"/>
<rect x="264.50" y="140.92" width="10" height="0.9" fill="#2c2929"/>
<rect x="277.10" y="133.22" width="1" height="12.6" fill="#2c2929"/>
<text x="279.00" y="143.22" font-size="13.8" font-style="italic">δ</text>
<text x="283.20" y="136.02" font-size="8.8" font-style="italic">Q</text>
<text x="292.40" y="138.02" font-size="7.5" font-style="italic">L</text>
<text x="284.90" y="146.42" font-size="10.0">23</text>
<rect x="301.70" y="133.22" width="1" height="12.6" fill="#2c2929"/>
<text x="307.40" y="143.12" font-size="14.0">(</text>
<text x="313.00" y="143.22" font-size="12.5" font-style="italic">K</text>
<text x="322.60" y="138.12" font-size="7.5">0</text>
<text x="330.20" y="143.12" font-size="14.0">)</text>
<rect x="159.20" y="148.48" width="1" height="12.6" fill="#2c2929"/>
<text x="161.10" y="158.48" font-size="13.8" font-style="italic">δ</text>
<text x="169.30" y="152.18" font-size="9.5" font-style="italic">u</text>
<text x="173.10" y="153.98" font-size="8.5" font-style="italic">R</text>
<text x="166.50" y="160.88" font-size="10.0">13</text>
<rect x="181.90" y="148.48" width="1" height="12.6" fill="#2c2929"/>
<rect x="185.90" y="153.08" width="10" height="0.9" fill="#2c2929"/>
<rect x="185.90" y="156.18" width="10" height="0.9" fill="#2c2929"/>
<rect x="198.50" y="148.48" width="1" height="12.6" fill="#2c2929"/>
<text x="200.40" y="158.48" font-size="13.8" font-style="italic">δ</text>
<text x="208.60" y="152.18" font-size="9.5" font-style="italic">u</text>
<text x="212.40" y="153.98" font-size="8.5" font-style="italic">R</text>
<text x="205.80" y="160.88" font-size="10.0">23</text>
<rect x="221.20" y="148.48" width="1" height="12.6" fill="#2c2929"/>
<rect x="225.20" y="153.08" width="10" height="0.9" fill="#2c2929"/>
<rect x="225.20" y="156.18" width="10" height="0.9" fill="#2c2929"/>
<rect x="237.80" y="148.48" width="1" height="12.6" fill="#2c2929"/>
<text x="239.70" y="158.48" font-size="13.8" font-style="italic">δ</text>
<text x="247.90" y="152.18" font-size="9.5" font-style="italic">Q</text>
<text x="251.70" y="153.98" font-size="8.5" font-style="italic">L</text>
<text x="245.10" y="160.88" font-size="10.0">13</text>
<rect x="260.50" y="148.48" width="1" height="12.6" fill="#2c2929"/>
<rect x="264.50" y="153.08" width="10" height="0.9" fill="#2c2929"/>
<rect x="264.50" y="156.18" width="10" height="0.9" fill="#2c2929"/>
<rect x="277.10" y="148.48" width="1" height="12.6" fill="#2c2929"/>
<text x="279.00" y="158.48" font-size="13.8" font-style="italic">δ</text>
<text x="283.20" y="151.28" font-size="8.8" font-style="italic">Q</text>
<text x="292.40" y="153.28" font-size="7.5" font-style="italic">L</text>
<text x="284.90" y="161.68" font-size="10.0">23</text>
<rect x="301.70" y="148.48" width="1" height="12.6" fill="#2c2929"/>
<text x="307.40" y="158.38" font-size="14.0">(</text>
<text x="313.00" y="158.48" font-size="12.5" font-style="italic">D</text>
<text x="322.60" y="153.38" font-size="7.5">0</text>
<text x="330.20" y="158.38" font-size="14.0">)</text>
<rect x="237.80" y="163.74" width="1" height="12.6" fill="#2c2929"/>
<text x="239.70" y="173.74" font-size="13.8" font-style="italic">δ</text>
<text x="247.90" y="167.44" font-size="9.5" font-style="italic">d</text>
<text x="251.70" y="169.24" font-size="8.5" font-style="italic">R</text>
<text x="245.10" y="176.14" font-size="10.0">13</text>
<rect x="260.50" y="163.74" width="1" height="12.6" fill="#2c2929"/>
<rect x="264.50" y="168.34" width="10" height="0.9" fill="#2c2929"/>
<rect x="264.50" y="171.44" width="10" height="0.9" fill="#2c2929"/>
<rect x="277.10" y="163.74" width="1" height="12.6" fill="#2c2929"/>
<text x="279.00" y="173.74" font-size="13.8" font-style="italic">δ</text>
<text x="283.20" y="166.54" font-size="8.8" font-style="italic">Q</text>
<text x="292.40" y="168.54" font-size="7.5" font-style="italic">L</text>
<text x="284.90" y="176.94" font-size="10.0">13</text>
<rect x="301.70" y="163.74" width="1" height="12.6" fill="#2c2929"/>
<text x="307.40" y="173.64" font-size="14.0">(</text>
<text x="313.00" y="173.74" font-size="12.5" font-style="italic">B</text>
<text x="322.60" y="168.64" font-size="7.5">0</text>
<text x="322.60" y="176.34" font-size="7.5" font-style="italic">d</text>
<text x="330.20" y="173.64" font-size="14.0">)</text>
<rect x="237.80" y="179.00" width="1" height="12.6" fill="#2c2929"/>
<text x="239.70" y="189.00" font-size="13.8" font-style="italic">δ</text>
<text x="247.90" y="182.70" font-size="9.5" font-style="italic">d</text>
<text x="251.70" y="184.50" font-size="8.5" font-style="italic">R</text>
<text x="245.10" y="191.40" font-size="10.0">23</text>
<rect x="260.50" y="179.00" width="1" height="12.6" fill="#2c2929"/>
<rect x="264.50" y="183.60" width="10" height="0.9" fill="#2c2929"/>
<rect x="264.50" y="186.70" width="10" height="0.9" fill="#2c2929"/>
<rect x="277.10" y="179.00" width="1" height="12.6" fill="#2c2929"/>
<text x="279.00" y="189.00" font-size="13.8" font-style="italic">δ</text>
<text x="283.20" y="181.80" font-size="8.8" font-style="italic">Q</text>
<text x="292.40" y="183.80" font-size="7.5" font-style="italic">L</text>
<text x="284.90" y="192.20" font-size="10.0">23</text>
<rect x="301.70" y="179.00" width="1" height="12.6" fill="#2c2929"/>
<text x="307.40" y="188.90" font-size="14.0">(</text>
<text x="313.00" y="189.00" font-size="12.5" font-style="italic">B</text>
<text x="322.60" y="183.90" font-size="7.5">0</text>
<text x="322.60" y="191.60" font-size="7.5" font-style="italic">s</text>
<text x="330.20" y="188.90" font-size="14.0">)</text>
<rect x="225.60" y="194.26" width="1" height="12.6" fill="#2c2929"/>
<text x="227.50" y="204.26" font-size="13.8" font-style="italic">δ</text>
<text x="235.70" y="197.96" font-size="9.5" font-style="italic">d</text>
<text x="239.50" y="199.76" font-size="8.5" font-style="italic">R</text>
<text x="232.90" y="206.66" font-size="10.0">13</text>
<rect x="248.30" y="194.26" width="1" height="12.6" fill="#2c2929"/>
<rect x="252.30" y="198.86" width="10" height="0.9" fill="#2c2929"/>
<rect x="252.30" y="201.96" width="10" height="0.9" fill="#2c2929"/>
<rect x="264.90" y="194.26" width="1" height="12.6" fill="#2c2929"/>
<text x="266.80" y="204.26" font-size="13.8" font-style="italic">δ</text>
<text x="271.00" y="197.06" font-size="8.8" font-style="italic">Q</text>
<text x="280.20" y="199.06" font-size="7.5" font-style="italic">L</text>
<text x="272.70" y="207.46" font-size="10.0">13</text>
<rect x="289.50" y="194.26" width="1" height="12.6" fill="#2c2929"/>
<text x="295.3" y="204.16" font-size="13" textLength="38" lengthAdjust="spacingAndGlyphs">(EDM)</text>
<rect x="225.60" y="209.52" width="1" height="12.6" fill="#2c2929"/>
<text x="227.50" y="219.52" font-size="13.8" font-style="italic">δ</text>
<text x="235.70" y="213.22" font-size="9.5" font-style="italic">u</text>
<text x="239.50" y="215.02" font-size="8.5" font-style="italic">R</text>
<text x="232.90" y="221.92" font-size="10.0">13</text>
<rect x="248.30" y="209.52" width="1" height="12.6" fill="#2c2929"/>
<rect x="252.30" y="214.12" width="10" height="0.9" fill="#2c2929"/>
<rect x="252.30" y="217.22" width="10" height="0.9" fill="#2c2929"/>
<rect x="264.90" y="209.52" width="1" height="12.6" fill="#2c2929"/>
<text x="266.80" y="219.52" font-size="13.8" font-style="italic">δ</text>
<text x="271.00" y="212.32" font-size="8.8" font-style="italic">Q</text>
<text x="280.20" y="214.32" font-size="7.5" font-style="italic">L</text>
<text x="272.70" y="222.72" font-size="10.0">13</text>
<rect x="289.50" y="209.52" width="1" height="12.6" fill="#2c2929"/>
<text x="295.3" y="219.42" font-size="13" textLength="38" lengthAdjust="spacingAndGlyphs">(EDM)</text>
<rect x="225.60" y="224.78" width="1" height="12.6" fill="#2c2929"/>
<text x="227.50" y="234.78" font-size="13.8" font-style="italic">δ</text>
<text x="235.70" y="228.48" font-size="9.5" font-style="italic">d</text>
<text x="239.50" y="230.28" font-size="8.5" font-style="italic">R</text>
<text x="232.90" y="237.18" font-size="10.0">23</text>
<rect x="248.30" y="224.78" width="1" height="12.6" fill="#2c2929"/>
<rect x="252.30" y="229.38" width="10" height="0.9" fill="#2c2929"/>
<rect x="252.30" y="232.48" width="10" height="0.9" fill="#2c2929"/>
<rect x="264.90" y="224.78" width="1" height="12.6" fill="#2c2929"/>
<text x="266.80" y="234.78" font-size="13.8" font-style="italic">δ</text>
<text x="271.00" y="227.58" font-size="8.8" font-style="italic">Q</text>
<text x="280.20" y="229.58" font-size="7.5" font-style="italic">L</text>
<text x="272.70" y="237.98" font-size="10.0">23</text>
<rect x="289.50" y="224.78" width="1" height="12.6" fill="#2c2929"/>
<text x="295.3" y="234.68" font-size="13" textLength="38" lengthAdjust="spacingAndGlyphs">(EDM)</text>
</g>
<text x="210.6" y="277" font-size="13.5" font-style="italic">m</text>
<text x="221.2" y="278.6" font-size="9.5">0</text>
<text x="230.8" y="277.3" font-size="13.5" textLength="30.6" lengthAdjust="spacingAndGlyphs">[TeV]</text>
</g>
</svg>
</body></html>
